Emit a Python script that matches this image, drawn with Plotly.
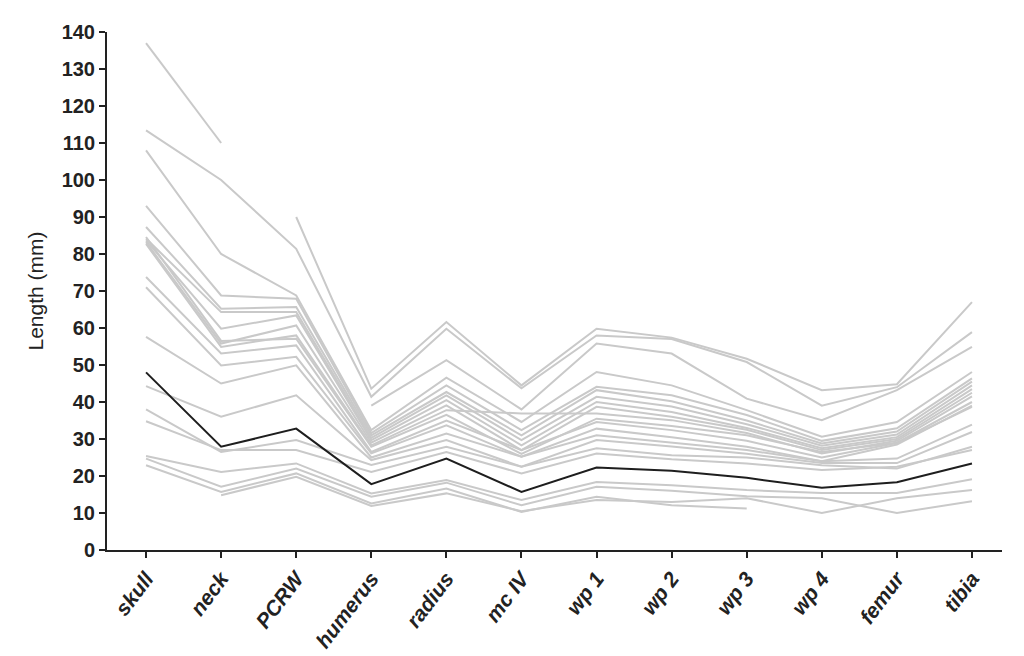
import plotly.graph_objects as go

N = None
categories = ["skull", "neck", "PCRW", "humerus", "radius", "mc IV",
              "wp 1", "wp 2", "wp 3", "wp 4", "femur", "tibia"]

# individual specimens (grey)
spec_A = [137, 110, N, N, N, N, N, N, N, N, N, N]
spec_B = [N, N, 90, 43.6, 61.6, 44.5, 59.8, 57.4, 51.7, 43.2, 44.8, 67.0]
spec_C = [113.4, 100, 81.4, 41.4, 59.8, 43.7, 58.0, 57.0, 50.8, 39.0, 44.0, 58.9]
spec_D = [N, N, N, 39.0, 51.3, 38.0, 55.8, 53.1, 40.9, 35.1, 43.2, 54.9]
spec_E = [108, 80, 68.8, 32.4, 46.6, 34.6, 48.1, 44.5, 37.8, 30.6, 34.6, 48.1]
spec_F = [93, 68.8, 67.9, 31.6, 44.5, 32.4, 44.1, 41.8, 36.5, 29.5, 32.9, 46.4]
spec_G = [87.3, 65.2, 65.7, 31.0, 42.7, 31.0, 43.2, 40.2, 35.0, 28.8, 32.0, 45.5]
spec_H = [84.2, 64.3, 64.3, 30.3, 41.8, 29.7, 41.4, 38.8, 34.0, 28.2, 31.2, 44.5]
spec_I = [83.7, 59.8, 63.4, 29.7, 40.5, 28.3, 40.0, 37.3, 33.0, 27.5, 30.5, 43.5]
spec_J = [83.2, 55.8, 60.7, 29.0, 39.1, 27.0, 38.7, 36.0, 32.5, 27.0, 30.0, 42.5]
spec_K = [82.7, 54.9, 58.0, 28.3, 37.8, 36.9, 36.9, 35.1, 31.6, 26.1, 29.5, 41.5]
spec_X = [84.6, 56.5, 57.1, 27.9, 36.5, 26.0, 35.5, 33.5, 31.0, 26.5, 29.0, 40.0]
spec_L = [73.8, 53.1, 55.3, 26.5, 35.0, 27.0, 34.6, 32.4, 29.5, 25.0, 28.9, 38.7]
spec_M = [71, 49.9, 52.2, 26.1, 33.7, 25.2, 32.8, 30.5, 27.9, 24.0, 28.5, 39.0]
spec_Nn = [57.6, 45.0, 49.9, 25.0, 31.5, 25.2, 31.0, 28.9, 27.0, 24.0, 24.7, 33.9]
spec_P = [44.3, 36.0, 41.8, 24.3, 29.7, 22.5, 29.7, 28.0, 26.0, 23.5, 23.5, 31.9]
spec_Q = [38.0, 26.5, 29.7, 23.0, 27.9, 22.5, 27.5, 25.6, 25.0, 22.9, 22.0, 27.9]
spec_R = [34.8, 27.0, 27.0, 21.1, 26.5, 20.7, 26.1, 24.5, 23.4, 21.6, 22.5, 27.0]
spec_S = [25.4, 21.1, 23.4, 15.3, 18.9, 13.5, 18.4, 17.5, 16.2, 15.4, 15.4, 19.1]
spec_T = [24.7, 17.1, 22.0, 14.4, 18.2, 12.1, 17.1, 16.0, 14.5, 14.0, 10.0, 13.2]
spec_U = [22.9, 15.7, 20.7, 12.6, 16.6, 10.3, 14.4, 12.1, 11.2, N, N, N]
spec_V = [N, 14.8, 19.8, 11.9, 15.3, 10.5, 13.5, 13.0, 14.0, 10.0, 14.0, 16.2]

# highlighted specimen (black)
highlight = [48.0, 27.9, 32.8, 17.8, 24.7, 15.7, 22.3, 21.4, 19.5, 16.8, 18.3, 23.4]

grey_series = [spec_A, spec_B, spec_C, spec_D, spec_E, spec_F, spec_G, spec_H,
               spec_I, spec_J, spec_K, spec_X, spec_L, spec_M, spec_Nn, spec_P,
               spec_Q, spec_R, spec_S, spec_T, spec_U, spec_V]

y_ticks = list(range(0, 141, 10))

fig = go.Figure()
for s in grey_series:
    fig.add_trace(go.Scatter(x=categories, y=s, mode="lines",
                             line=dict(color="#c9c9c9", width=2),
                             connectgaps=False, hoverinfo="skip",
                             showlegend=False))
fig.add_trace(go.Scatter(x=categories, y=highlight, mode="lines",
                         line=dict(color="#1e1e1e", width=2),
                         showlegend=False))

FAM = "Liberation Sans, Arial, sans-serif"
DARK = "#222222"

fig.update_layout(
    width=1024, height=656,
    margin=dict(l=99, r=30, t=24, b=114, autoexpand=False),
    paper_bgcolor="white", plot_bgcolor="white",
    font=dict(family=FAM, size=18, color=DARK),
    xaxis=dict(
        type="category",
        categoryorder="array", categoryarray=categories,
        tickmode="array", tickvals=categories,
        ticktext=["<b><i>%s</i></b>" % c for c in categories],
        tickangle=-53,
        range=[-0.52, 11.4],
        showline=True, linecolor=DARK, linewidth=2,
        ticks="outside", ticklen=6, tickwidth=2, tickcolor=DARK,
        showgrid=False, zeroline=False, automargin=False,
        tickfont=dict(family=FAM, size=21, color=DARK),
    ),
    yaxis=dict(
        range=[0, 140],
        tickmode="array", tickvals=y_ticks,
        ticktext=["<b>%d</b>" % v for v in y_ticks],
        showline=True, linecolor=DARK, linewidth=2,
        ticks="outside", ticklen=6, tickwidth=2, tickcolor=DARK,
        showgrid=False, zeroline=False, automargin=False,
        tickfont=dict(family=FAM, size=20, color=DARK),
        title=dict(text="Length (mm)", standoff=12,
                   font=dict(family=FAM, size=21, color=DARK)),
    ),
)

fig.write_html("out.html")
